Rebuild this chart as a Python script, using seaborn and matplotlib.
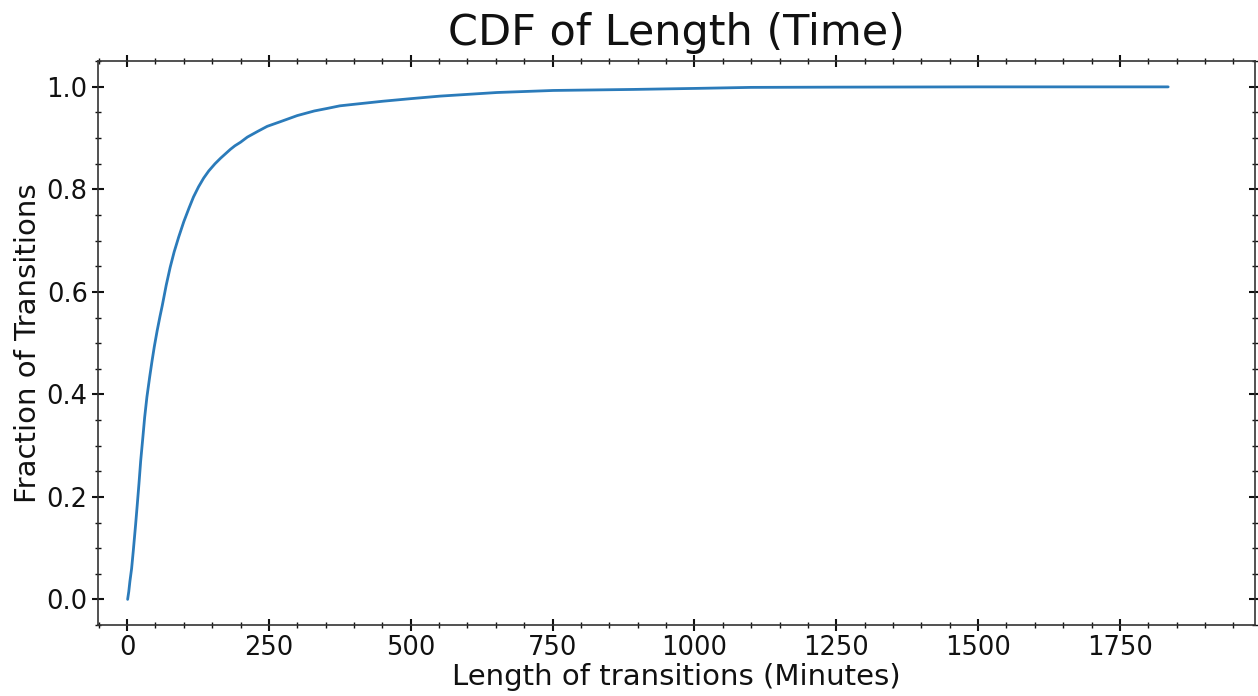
import matplotlib
matplotlib.use("Agg")
import matplotlib.pyplot as plt
import seaborn as sns
import pandas as pd
from matplotlib.ticker import MultipleLocator

# Data
minutes = [1, 3, 5, 8, 11, 15, 18, 21, 24, 28, 31, 35, 40, 44, 48, 53, 58,
           62, 69, 76, 83, 91, 100, 109, 117, 126, 135, 144, 155, 165, 182,
           190, 200, 212, 230, 247, 270, 300, 330, 353, 375, 400, 451, 500,
           552, 652, 751, 892, 1001, 1100, 1250, 1500, 1835]
fraction = [0.0, 0.015, 0.035, 0.06, 0.095, 0.145, 0.185, 0.226, 0.27, 0.318,
            0.355, 0.395, 0.435, 0.465, 0.493, 0.524, 0.552, 0.573, 0.613,
            0.648, 0.678, 0.707, 0.737, 0.763, 0.785, 0.805, 0.822, 0.836,
            0.85, 0.861, 0.878, 0.885, 0.892, 0.902, 0.913, 0.923, 0.932,
            0.944, 0.953, 0.958, 0.963, 0.966, 0.972, 0.977, 0.982, 0.989,
            0.993, 0.995, 0.997, 0.999, 0.9995, 1.0, 1.0]

title = "CDF of Length (Time)"
xlabel = "Length of transitions (Minutes)"
ylabel = "Fraction of Transitions"

sns.set_style("white")
plt.rcParams['font.family'] = ['DejaVu Sans']
plt.rcParams['text.color'] = '#111111'
plt.rcParams['axes.labelcolor'] = '#111111'

df = pd.DataFrame({"minutes": minutes, "fraction": fraction})

fig = plt.figure(figsize=(12.58, 6.96), dpi=100)
ax = fig.add_axes([0.078, 0.102, 0.9196, 0.81])
sns.lineplot(data=df, x="minutes", y="fraction", ax=ax, color="#2b7bba",
             linewidth=2)

ax.set_xlim(-51, 1988)
ax.set_ylim(-0.05, 1.05)
ax.xaxis.set_major_locator(MultipleLocator(250))
ax.xaxis.set_minor_locator(MultipleLocator(50))
ax.yaxis.set_major_locator(MultipleLocator(0.2))
ax.yaxis.set_minor_locator(MultipleLocator(0.05))
ax.tick_params(which="both", direction="inout", top=True, right=True,
               bottom=True, left=True, labelsize=18.5, colors="#111111")
ax.tick_params(which="major", length=8, width=1.5)
ax.tick_params(which="minor", length=4, width=1)
for s in ax.spines.values():
    s.set_color("#333333")
    s.set_linewidth(1.2)

ax.set_title(title, fontsize=31, pad=12)
ax.set_xlabel(xlabel, fontsize=21, labelpad=1)
ax.set_ylabel(ylabel, fontsize=21, labelpad=3)

fig.savefig("out.png", dpi=100)
